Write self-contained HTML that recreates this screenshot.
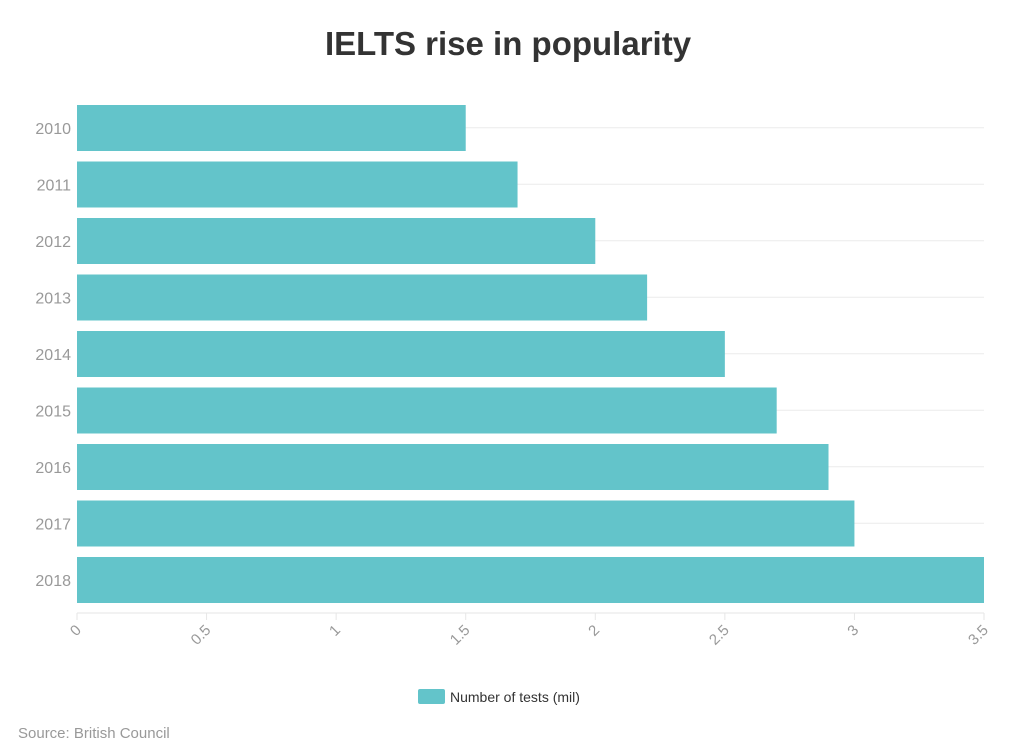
<!DOCTYPE html>
<html><head><meta charset="utf-8"><style>
body{margin:0;background:#fff;font-family:"Liberation Sans",sans-serif}
</style></head><body>
<svg width="1024" height="751" xmlns="http://www.w3.org/2000/svg">
<text x="508" y="55" text-anchor="middle" font-size="33" font-weight="bold" fill="#333">IELTS rise in popularity</text>
<g id="grid"></g><g id="bars"></g><g id="ylab"></g><g id="xax"></g>
<g>
<rect x="418" y="689" width="27" height="15" rx="2" fill="#63c4ca"/>
<text x="450" y="702" font-size="14" fill="#333">Number of tests (mil)</text>
</g>
<text x="18" y="738" font-size="15" fill="#999">Source: British Council</text>
</svg>
<script>
const categories=["2010","2011","2012","2013","2014","2015","2016","2017","2018"];
const values=[1.5,1.7,2.0,2.2,2.5,2.7,2.9,3.0,3.5];
const ticks=[0,0.5,1,1.5,2,2.5,3,3.5];
const tickLabels=["0","0.5","1","1.5","2","2.5","3","3.5"];
const NS="http://www.w3.org/2000/svg";
const x0=77,x1=984,top0=99.5,step=56.5,bh=46;
const xs=v=>x0+(v/3.5)*(x1-x0);
const ys=i=>top0+i*step;
function mk(t,a,p){const e=document.createElementNS(NS,t);for(const k in a)e.setAttribute(k,a[k]);document.getElementById(p).appendChild(e);return e;}
categories.forEach((c,i)=>{
 const y=ys(i);
 const g=mk("line",{x1:x0,x2:x1,y1:y+step/2,y2:y+step/2,stroke:"#ebebeb","stroke-width":1},"grid");
 
 
 const b=mk("rect",{x:x0,y:y+5.5,width:xs(values[i])-x0,height:bh,fill:"#63c4ca"},"bars");
 
 
 const t=mk("text",{x:71,y:y+step/2+6,"text-anchor":"end","font-size":16,fill:"#999"},"ylab");
 t.textContent=c;
 
 
});
const al=mk("line",{x1:x0,x2:x1,y1:613,y2:613,stroke:"#e6e6e6","stroke-width":1},"xax");


ticks.forEach((v,i)=>{
 const x=xs(v);
 const tk=mk("line",{x1:x,x2:x,y1:613,y2:620,stroke:"#e6e6e6"},"xax");
 
 
 const t=mk("text",{x:x+5,y:631,"text-anchor":"end","font-size":15,fill:"#999",transform:`rotate(-45 ${x+5} 631)`},"xax");
 t.textContent=tickLabels[i];
 
 
});
</script>
</body></html>
